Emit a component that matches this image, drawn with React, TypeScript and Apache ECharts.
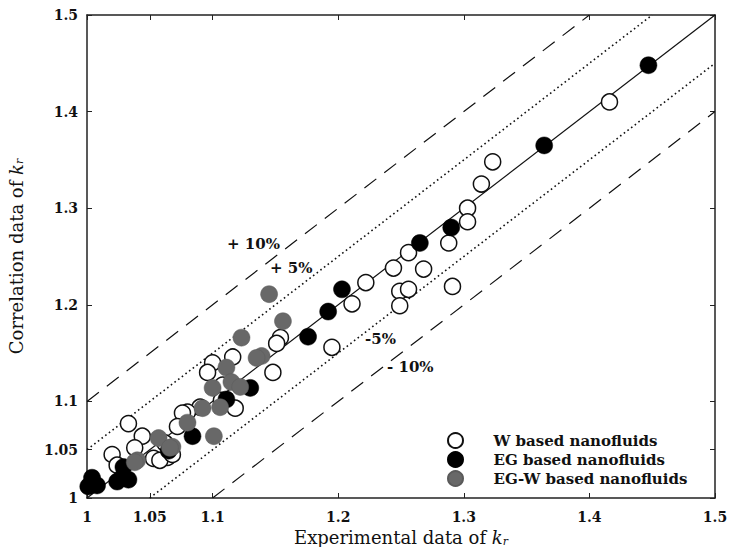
import React, { useEffect, useRef } from "react";
import * as echarts from "echarts";

const TICKS = [1, 1.05, 1.1, 1.2, 1.3, 1.4, 1.5];
const TICK_LABELS = ["1", "1.05", "1.1", "1.2", "1.3", "1.4", "1.5"];

const W_DATA: [number, number][] = [
  [1.416, 1.41], [1.323, 1.348], [1.314, 1.325], [1.303, 1.3], [1.303, 1.286],
  [1.288, 1.264], [1.291, 1.219], [1.268, 1.237], [1.256, 1.254], [1.244, 1.238],
  [1.249, 1.214], [1.256, 1.216], [1.249, 1.199], [1.222, 1.223], [1.211, 1.201],
  [1.195, 1.156], [1.154, 1.166], [1.151, 1.16], [1.148, 1.13], [1.116, 1.146],
  [1.1, 1.14], [1.096, 1.13], [1.108, 1.117], [1.107, 1.101], [1.118, 1.093],
  [1.09, 1.094], [1.08, 1.089], [1.076, 1.088], [1.072, 1.074], [1.062, 1.057],
  [1.064, 1.042], [1.053, 1.041], [1.058, 1.039], [1.068, 1.045], [1.033, 1.077],
  [1.044, 1.064], [1.038, 1.052], [1.02, 1.045], [1.024, 1.034],
];

const EG_DATA: [number, number][] = [
  [1.447, 1.448], [1.364, 1.365], [1.29, 1.28], [1.265, 1.264], [1.203, 1.216],
  [1.192, 1.193], [1.176, 1.167], [1.13, 1.114], [1.111, 1.102], [1.084, 1.064],
  [1.065, 1.049], [1.029, 1.032], [1.028, 1.021], [1.033, 1.019], [1.024, 1.017],
  [1.004, 1.021], [1.008, 1.013], [1.001, 1.012],
];

const EGW_DATA: [number, number][] = [
  [1.145, 1.211], [1.156, 1.183], [1.123, 1.166], [1.139, 1.147], [1.135, 1.145],
  [1.111, 1.135], [1.1, 1.114], [1.115, 1.12], [1.122, 1.115], [1.106, 1.094],
  [1.092, 1.093], [1.101, 1.064], [1.08, 1.078], [1.057, 1.062], [1.068, 1.053],
  [1.066, 1.052], [1.04, 1.039], [1.038, 1.037],
];

const LINE_PERFECT: [number, number][] = [[1, 1], [1.5, 1.5]];
const LINE_P10: [number, number][] = [[1, 1.1], [1.4, 1.5]];
const LINE_P5: [number, number][] = [[1, 1.05], [1.45, 1.5]];
const LINE_M5: [number, number][] = [[1.05, 1], [1.5, 1.45]];
const LINE_M10: [number, number][] = [[1.1, 1], [1.5, 1.4]];

const SERIF = "'DejaVu Serif', 'Liberation Serif', serif";

export default function App() {
  const ref = useRef<HTMLDivElement>(null);
  useEffect(() => {
    document.body.style.margin = "0";
    if (!ref.current) return;
    const chart = echarts.init(ref.current, null, { renderer: "svg" });
    const labelFmt = (v: number) => {
      const i = TICKS.findIndex((t) => Math.abs(t - v) < 1e-9);
      return i >= 0 ? TICK_LABELS[i] : "";
    };
    const axisCommon = {
      type: "value" as const,
      min: 1,
      max: 1.5,
      splitLine: { show: false },
      axisLine: { show: true, onZero: false, lineStyle: { color: "#222", width: 1.5 } },
      axisTick: { show: true, inside: true, length: 5, customValues: TICKS, lineStyle: { color: "#222", width: 1 } },
    };
    const nameRich = {
      k: { fontFamily: SERIF, fontSize: 18, fontStyle: "italic" as const, color: "#111" },
      r: { fontFamily: SERIF, fontSize: 11, fontStyle: "italic" as const, color: "#111", padding: [7, 0, 0, 0] },
    };
    const lineSeries = (data: [number, number][], type: any, dash?: number[]) => ({
      type: "line",
      data,
      symbol: "none",
      silent: true,
      z: 1,
      lineStyle: { color: "#111", width: type === "dotted" ? 1.6 : 1.2, type: dash ? dash : type },
      xAxisIndex: 0,
      yAxisIndex: 0,
    });
    const textStyle = { fontFamily: SERIF, fontSize: 15, fontWeight: "bold", fill: "#111" };
    const tickLabel = {
      show: true,
      customValues: TICKS,
      formatter: labelFmt,
      fontFamily: SERIF,
      fontSize: 14,
      fontWeight: "bold",
      color: "#111",
    };
    chart.setOption({
      animation: false,
      backgroundColor: "#fff",
      grid: { left: 87, top: 15, right: 17, bottom: 49, containLabel: false, outerBoundsMode: "none" },
      xAxis: [
        {
          ...axisCommon,
          position: "bottom",
          name: "Experimental data of {k|k}{r|r}",
          nameLocation: "middle",
          nameGap: 28,
          nameTextStyle: { fontFamily: SERIF, fontSize: 18, color: "#111", rich: nameRich },
          axisLabel: { ...tickLabel, margin: 12 },
        },
        { ...axisCommon, position: "top", axisLabel: { show: false } },
      ],
      yAxis: [
        {
          ...axisCommon,
          position: "left",
          name: "Correlation data of {k|k}{r|r}",
          nameLocation: "middle",
          nameGap: 62,
          nameRotate: 90,
          nameTextStyle: { fontFamily: SERIF, fontSize: 18, color: "#111", rich: nameRich },
          axisLabel: { ...tickLabel, margin: 9 },
        },
        { ...axisCommon, position: "right", axisLabel: { show: false } },
      ],
      legend: {
        orient: "vertical",
        left: 442,
        top: 427,
        itemWidth: 66,
        itemHeight: 15,
        itemGap: 2,
        textStyle: { fontFamily: SERIF, fontSize: 15, fontWeight: "bold", color: "#111" },
        data: ["W based nanofluids", "EG based nanofluids", "EG-W based nanofluids"],
      },
      series: [
        lineSeries(LINE_PERFECT, "solid"),
        lineSeries(LINE_P10, "dashed", [15, 10]),
        lineSeries(LINE_M10, "dashed", [15, 10]),
        lineSeries(LINE_P5, "dotted", [1.6, 3]),
        lineSeries(LINE_M5, "dotted", [1.6, 3]),
        {
          name: "W based nanofluids",
          type: "scatter",
          data: W_DATA,
          symbol: "circle",
          symbolSize: 16,
          z: 3,
          itemStyle: { color: "#fff", borderColor: "#111", borderWidth: 1.5, opacity: 1 },
        },
        {
          name: "EG based nanofluids",
          type: "scatter",
          data: EG_DATA,
          symbol: "circle",
          symbolSize: 17,
          z: 4,
          itemStyle: { color: "#000", borderColor: "#000", borderWidth: 0.5, opacity: 1 },
        },
        {
          name: "EG-W based nanofluids",
          type: "scatter",
          data: EGW_DATA,
          symbol: "circle",
          symbolSize: 17,
          z: 4,
          itemStyle: { color: "#686868", borderColor: "#5a5a5a", borderWidth: 0.5, opacity: 1 },
        },
      ],
      graphic: [
        { type: "text", left: 227, top: 236, style: { ...textStyle, text: "+ 10%" } },
        { type: "text", left: 270, top: 260, style: { ...textStyle, text: "+ 5%" } },
        { type: "text", left: 365, top: 331, style: { ...textStyle, text: "-5%" } },
        { type: "text", left: 387, top: 359, style: { ...textStyle, text: "- 10%" } },
      ],
    });
    return () => chart.dispose();
  }, []);
  return <div ref={ref} style={{ width: 732, height: 547 }} />;
}
